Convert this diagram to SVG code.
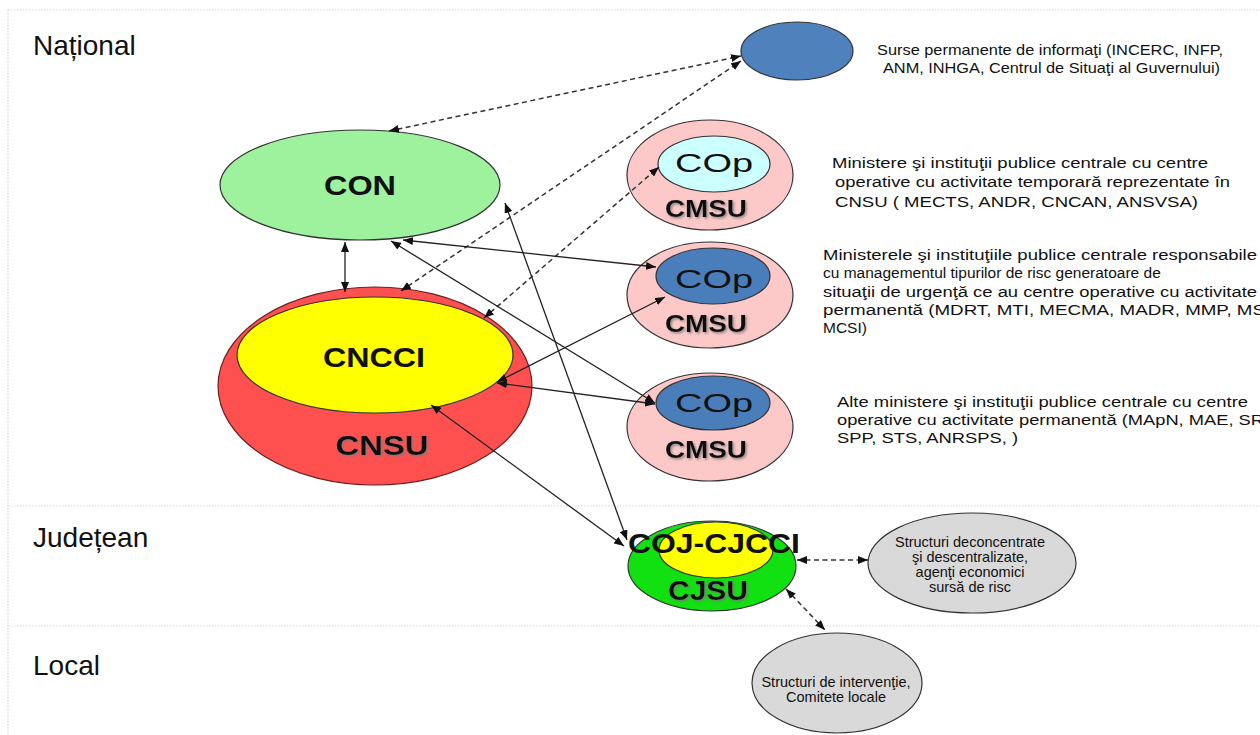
<svg xmlns="http://www.w3.org/2000/svg" width="1260" height="735" viewBox="0 0 1260 735">
<style>
.band{stroke:#d8d8d8;stroke-width:1.2;stroke-dasharray:1.5 1.5;fill:none}
.lvl{font-family:"Liberation Sans",Arial,sans-serif;font-size:28px;fill:#111}
.ell{stroke:#333;stroke-width:1.2}
.lbl{font-family:"Liberation Sans",Arial,sans-serif;font-weight:bold;fill:#111;text-anchor:middle}
.sh{filter:url(#shadow)}
.cop{font-family:"Liberation Sans",Arial,sans-serif;font-size:26px;fill:#111;text-anchor:middle}
.src{font-family:"Liberation Sans",Arial,sans-serif;font-size:14.5px;fill:#111}
.desc{font-family:"Liberation Sans",Arial,sans-serif;font-size:15.5px;fill:#111}
.gtx{font-family:"Liberation Sans",Arial,sans-serif;font-size:14.5px;fill:#111;text-anchor:middle}
.sol{stroke:#222;stroke-width:1.3;fill:none;marker-start:url(#ah);marker-end:url(#ah)}
.dash{stroke:#333;stroke-width:1.5;stroke-dasharray:5 3.5;fill:none;marker-start:url(#ah);marker-end:url(#ah)}
</style>
<defs>
<marker id="ah" viewBox="0 0 10 8" refX="10" refY="4" markerWidth="10" markerHeight="8" markerUnits="userSpaceOnUse" orient="auto-start-reverse">
<path d="M0,0 L10,4 L0,8 Z" fill="#111"/>
</marker>
<filter id="shadow" x="-20%" y="-30%" width="140%" height="160%">
<feDropShadow dx="1.5" dy="1.5" stdDeviation="0.8" flood-color="#777" flood-opacity="0.8"/>
</filter>
</defs>
<rect width="1260" height="735" fill="#fff"/>
<g id="bands">
<path class="band" d="M8,10 H1260 M8,10 V735 M8,506 H1260 M8,626 H1260"/>
<text class="lvl" x="33" y="55">Național</text>
<text class="lvl" x="33" y="547">Județean</text>
<text class="lvl" x="33" y="675">Local</text>
</g>
<g id="surse">
<ellipse class="ell" cx="797" cy="51" rx="56" ry="29" fill="#4f81bd"/>
<text class="src" x="877" y="55" textLength="346" lengthAdjust="spacingAndGlyphs">Surse permanente de informaţi (INCERC, INFP,</text>
<text class="src" x="883" y="73" textLength="337" lengthAdjust="spacingAndGlyphs">ANM, INHGA, Centrul de Situaţi al Guvernului)</text>
</g>
<g id="con">
<ellipse class="ell" cx="360" cy="185" rx="140" ry="55" fill="#9ef29e"/>
<text class="lbl" x="360" y="195" font-size="27" textLength="72" lengthAdjust="spacingAndGlyphs">CON</text>
</g>
<g id="cnsu">
<ellipse cx="375" cy="386" rx="157" ry="99" fill="#ff5050" stroke="#6a2020" stroke-width="1.2"/>
<ellipse class="ell" cx="375" cy="355" rx="138" ry="58" fill="#ffff00"/>
<text class="lbl" x="374" y="367" font-size="28" textLength="102" lengthAdjust="spacingAndGlyphs">CNCCI</text>
<text class="lbl sh" x="382" y="455" font-size="28" textLength="93" lengthAdjust="spacingAndGlyphs">CNSU</text>
</g>
<g id="cmsu1">
<ellipse class="ell" cx="710" cy="175" rx="83" ry="55" fill="#fcc8c8"/>
<ellipse class="ell" cx="714" cy="164" rx="56" ry="28" fill="#ccffff"/>
<text class="cop" x="714" y="172" textLength="78" lengthAdjust="spacingAndGlyphs">COp</text>
<text class="lbl sh" x="706" y="217" font-size="23" textLength="82" lengthAdjust="spacingAndGlyphs">CMSU</text>
<text class="desc" x="832" y="168" textLength="376" lengthAdjust="spacingAndGlyphs">Ministere şi instituţii publice centrale cu centre</text>
<text class="desc" x="835" y="187" textLength="395" lengthAdjust="spacingAndGlyphs">operative cu activitate temporară reprezentate în</text>
<text class="desc" x="835" y="207" textLength="363" lengthAdjust="spacingAndGlyphs">CNSU ( MECTS, ANDR, CNCAN, ANSVSA)</text>
</g>
<g id="cmsu2">
<ellipse class="ell" cx="710" cy="295" rx="83" ry="53" fill="#fcc8c8"/>
<ellipse class="ell" cx="713" cy="276" rx="57" ry="28" fill="#4a7ebb"/>
<text class="cop" x="714" y="288" textLength="78" lengthAdjust="spacingAndGlyphs">COp</text>
<text class="lbl sh" x="706" y="332" font-size="23" textLength="82" lengthAdjust="spacingAndGlyphs">CMSU</text>
<text class="desc" x="823" y="260" textLength="434" lengthAdjust="spacingAndGlyphs">Ministerele şi instituţiile publice centrale responsabile</text>
<text class="desc" x="823" y="278">cu managementul tipurilor de risc generatoare de</text>
<text class="desc" x="823" y="297" textLength="434" lengthAdjust="spacingAndGlyphs">situaţii de urgenţă ce au centre operative cu activitate</text>
<text class="desc" x="823" y="315" textLength="442" lengthAdjust="spacingAndGlyphs">permanentă (MDRT, MTI, MECMA, MADR, MMP, MS</text>
<text class="desc" x="823" y="333">MCSI)</text>
</g>
<g id="cmsu3">
<ellipse class="ell" cx="710" cy="427" rx="83" ry="54" fill="#fcc8c8"/>
<ellipse class="ell" cx="713" cy="403" rx="57" ry="27" fill="#4a7ebb"/>
<text class="cop" x="714" y="412" textLength="78" lengthAdjust="spacingAndGlyphs">COp</text>
<text class="lbl sh" x="706" y="458" font-size="23" textLength="82" lengthAdjust="spacingAndGlyphs">CMSU</text>
<text class="desc" x="837" y="407" textLength="411" lengthAdjust="spacingAndGlyphs">Alte ministere şi instituţii publice centrale cu centre</text>
<text class="desc" x="837" y="425" textLength="427" lengthAdjust="spacingAndGlyphs">operative cu activitate permanentă (MApN, MAE, SR</text>
<text class="desc" x="837" y="443" textLength="181" lengthAdjust="spacingAndGlyphs">SPP, STS, ANRSPS, )</text>
</g>
<g id="cjsu">
<ellipse class="ell" cx="712" cy="566" rx="84" ry="45" fill="#11e011"/>
<ellipse class="ell" cx="716" cy="550" rx="57" ry="28" fill="#ffff00"/>
<text class="lbl" x="714" y="553" font-size="28" textLength="172" lengthAdjust="spacingAndGlyphs">COJ-CJCCI</text>
<text class="lbl sh" x="708" y="600" font-size="28" textLength="80" lengthAdjust="spacingAndGlyphs">CJSU</text>
</g>
<g id="structuri-deconcentrate">
<ellipse class="ell" cx="972" cy="563" rx="104" ry="50" fill="#d9d9d9"/>
<text class="gtx" x="970" y="547">Structuri deconcentrate</text>
<text class="gtx" x="970" y="562">şi descentralizate,</text>
<text class="gtx" x="970" y="577">agenţi economici</text>
<text class="gtx" x="970" y="592">sursă de risc</text>
</g>
<g id="structuri-interventie">
<ellipse class="ell" cx="837" cy="683" rx="85" ry="50" fill="#d9d9d9"/>
<text class="gtx" x="836" y="687">Structuri de intervenţie,</text>
<text class="gtx" x="836" y="702">Comitete locale</text>
</g>
<g id="connectors">
<line class="dash" x1="389" y1="131" x2="741" y2="56"/>
<line class="dash" x1="401" y1="291" x2="741" y2="61"/>
<line class="dash" x1="484" y1="318" x2="659" y2="167"/>
<line class="sol" x1="345" y1="242" x2="345" y2="292"/>
<line class="sol" x1="403" y1="240" x2="656" y2="267"/>
<line class="sol" x1="391" y1="241" x2="655" y2="403"/>
<line class="sol" x1="497" y1="382" x2="665" y2="297"/>
<line class="sol" x1="497" y1="383" x2="655" y2="404"/>
<line class="sol" x1="505" y1="203" x2="627" y2="540"/>
<line class="sol" x1="431" y1="405" x2="624" y2="546"/>
<line class="dash" x1="797" y1="560" x2="868" y2="560"/>
<line class="dash" x1="786" y1="589" x2="825" y2="630"/>
</g>
</svg>
